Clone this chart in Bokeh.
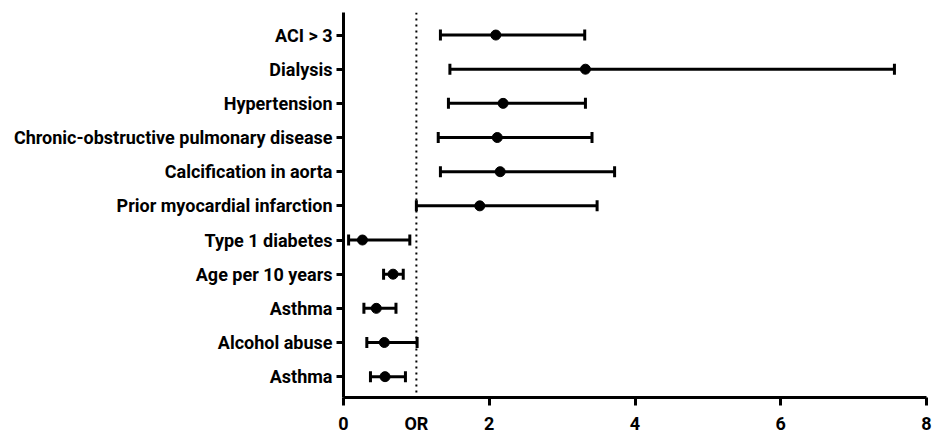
from bokeh.plotting import figure
from bokeh.models import ColumnDataSource, Whisker, TeeHead, Span, FixedTicker, Range1d
from bokeh.embed import file_html
from bokeh.resources import INLINE

# Data (top to bottom)
factors = ["ACI > 3", "Dialysis", "Hypertension", "Chronic-obstructive pulmonary disease",
           "Calcification in aorta", "Prior myocardial infarction", "Type 1 diabetes",
           "Age per 10 years", "Asthma", "Alcohol abuse", "Asthma"]
odds_ratio = [2.09, 3.32, 2.19, 2.11, 2.15, 1.87, 0.26, 0.68, 0.45, 0.56, 0.57]
ci_lower = [1.33, 1.46, 1.44, 1.30, 1.33, 1.00, 0.07, 0.55, 0.28, 0.32, 0.37]
ci_upper = [3.31, 7.56, 3.32, 3.41, 3.72, 3.48, 0.91, 0.82, 0.72, 1.01, 0.85]
x_ticks = [0, 2, 4, 6, 8]
ref_line = 1
ref_label = "OR"

n = len(factors)
ypos = [n - i for i in range(n)]

src = ColumnDataSource(dict(y=ypos, orr=odds_ratio, lo=ci_lower, hi=ci_upper))

FONT = "Roboto"

p = figure(width=933, height=436, output_backend="svg", toolbar_location=None,
           x_range=Range1d(0, 8), y_range=Range1d(0.39, n + 0.66),
           min_border_left=343, min_border_right=7, min_border_top=12, min_border_bottom=37)
p.outline_line_color = None
p.grid.visible = False
p.background_fill_color = "white"
p.border_fill_color = "white"

p.add_layout(Span(location=ref_line, dimension="height", line_color="black",
                  line_width=2, line_dash="2 4"))

wh = Whisker(source=src, base="y", lower="lo", upper="hi", dimension="width",
             line_color="black", line_width=3,
             upper_head=TeeHead(size=11, line_width=3, line_color="black"),
             lower_head=TeeHead(size=11, line_width=3, line_color="black"))
p.add_layout(wh)
p.scatter("orr", "y", source=src, size=10, color="black")

for ax in (p.xaxis[0], p.yaxis[0]):
    ax.axis_line_width = 3
    ax.axis_line_color = "black"
    ax.major_tick_line_width = 3
    ax.major_tick_line_color = "black"
    ax.major_tick_in = 0
    ax.minor_tick_line_color = None
    ax.major_label_text_font = FONT
    ax.major_label_text_font_style = "bold"
    ax.major_label_text_font_size = "18px"
    ax.major_label_text_color = "black"

# x axis: labels at 0,OR,2,4,6,8 (major), tick marks only at 0,2,4,6,8 (minor)
p.xaxis.ticker = FixedTicker(ticks=sorted(x_ticks + [ref_line]), minor_ticks=x_ticks)
p.xaxis.major_label_overrides = {ref_line: ref_label}
p.xaxis.major_tick_line_color = None
p.xaxis.major_tick_out = 8
p.xaxis.minor_tick_line_color = "black"
p.xaxis.minor_tick_line_width = 3
p.xaxis.minor_tick_in = 0
p.xaxis.minor_tick_out = 8
p.xaxis.major_label_standoff = 7

p.yaxis.ticker = FixedTicker(ticks=ypos)
p.yaxis.major_label_overrides = {y: f for y, f in zip(ypos, factors)}
p.yaxis.major_tick_out = 7
p.yaxis.major_label_standoff = 4

open("out.html", "w").write(file_html(p, INLINE))
